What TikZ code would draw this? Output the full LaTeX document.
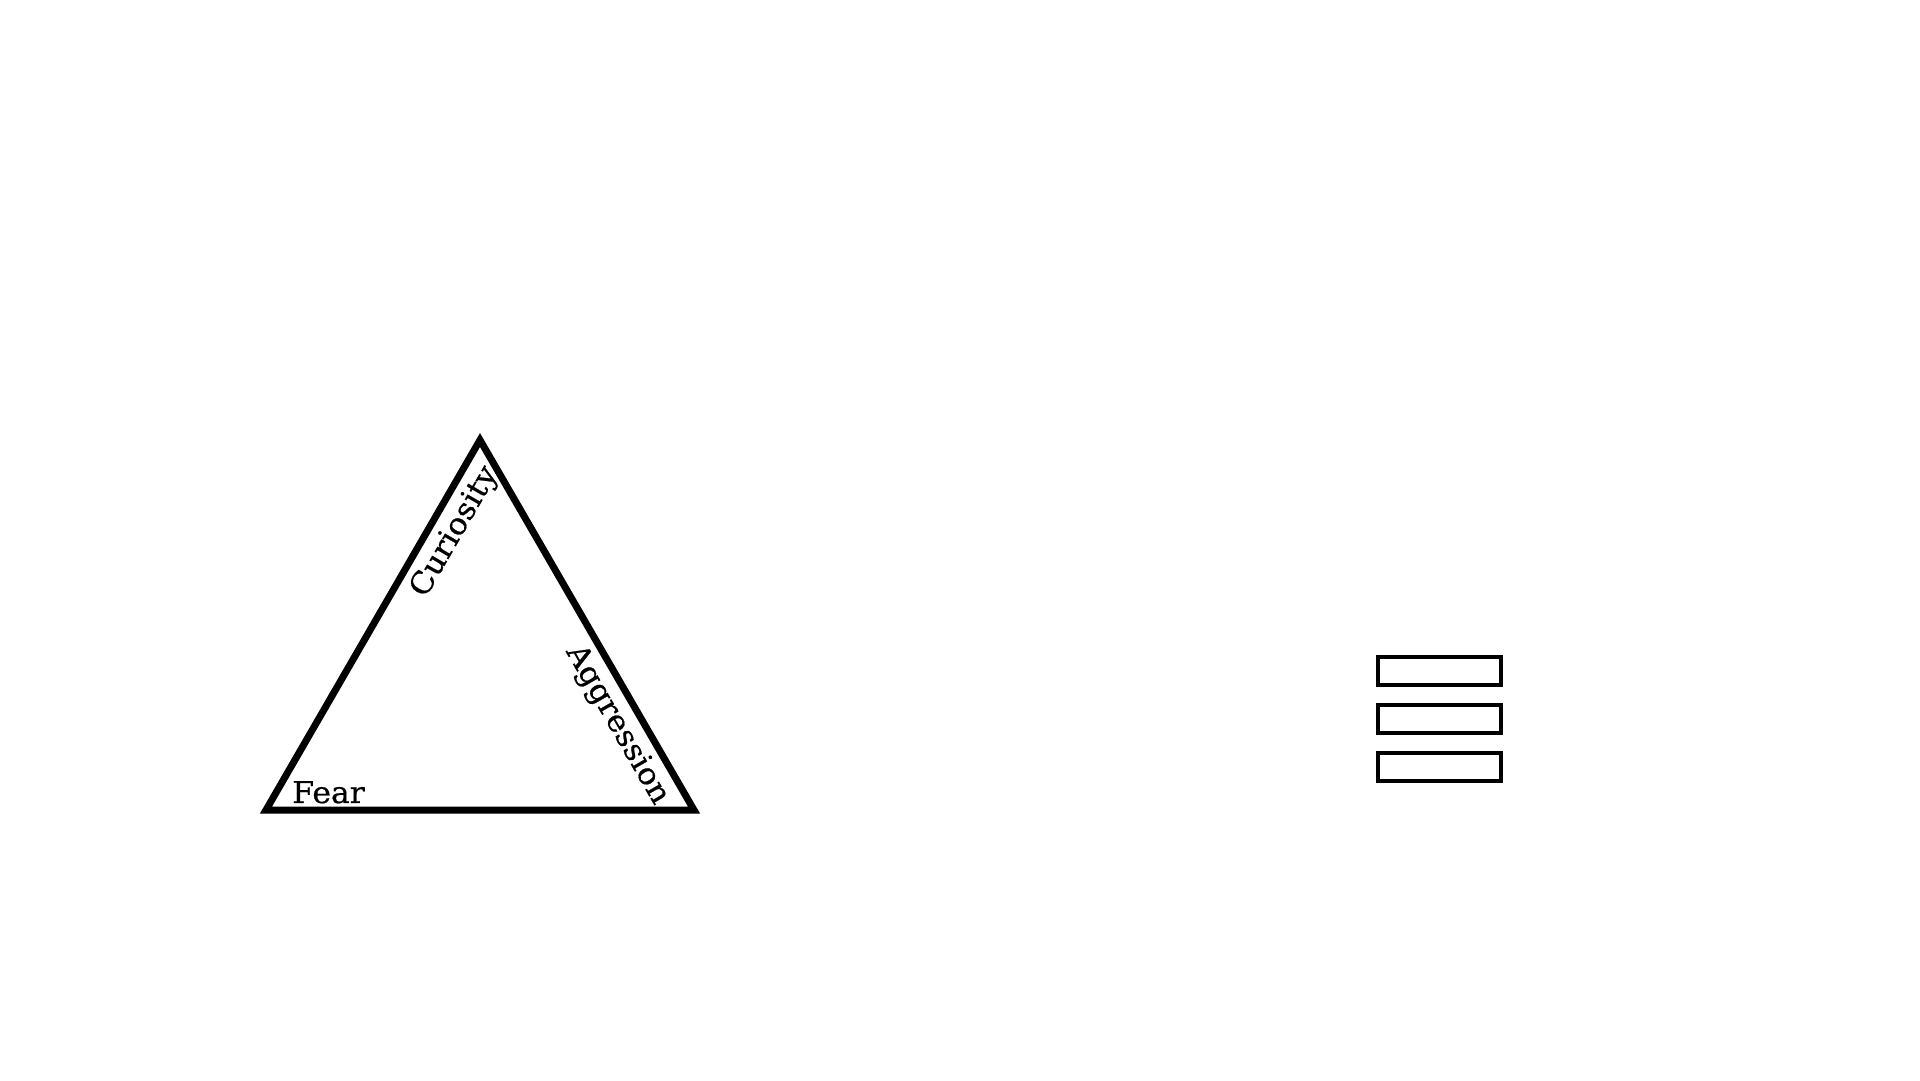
\documentclass[tikz,border=0pt]{standalone}
\usepackage{fontspec}
\setmainfont{DejaVu Serif}
\newfontfamily\labelfont{DejaVu Serif}[FakeBold=0.6]
\usetikzlibrary{calc}
\tikzstyle{edgeline}=[draw=black,line width=7pt,line join=miter]
\tikzstyle{edgelabel}=[inner sep=0pt,font=\labelfont\fontsize{30}{33}\selectfont]
\tikzstyle{bar}=[rectangle,draw=black,line width=4pt,minimum width=123pt,minimum height=28pt,inner sep=0pt]
\begin{document}
\begin{tikzpicture}[x=1pt,y=1pt]

    \useasboundingbox (0,0) rectangle (1920,1080);

    \coordinate (fearcorner) at (266,270);
    \coordinate (aggcorner) at (694,270);
    \coordinate (apex) at (480,640);

       \draw[edgeline] (fearcorner) -- (aggcorner) -- (apex) -- cycle;

    \node[edgelabel, anchor=base west, xscale=1.05] (fear) at (292,277) {Fear};
    \node[edgelabel, rotate=60, xscale=1.05] (curiosity) at (455,548) {Curiosity};
    \node[edgelabel, rotate=-60, xscale=1.05] (aggression) at (617,355) {Aggression};

    \foreach \pos/\name in {{(1439.5,409)/bar1}, {(1439.5,361)/bar2}, {(1439.5,313)/bar3}}
        \node[bar] (\name) at \pos {};

   \end{tikzpicture}
\end{document}
